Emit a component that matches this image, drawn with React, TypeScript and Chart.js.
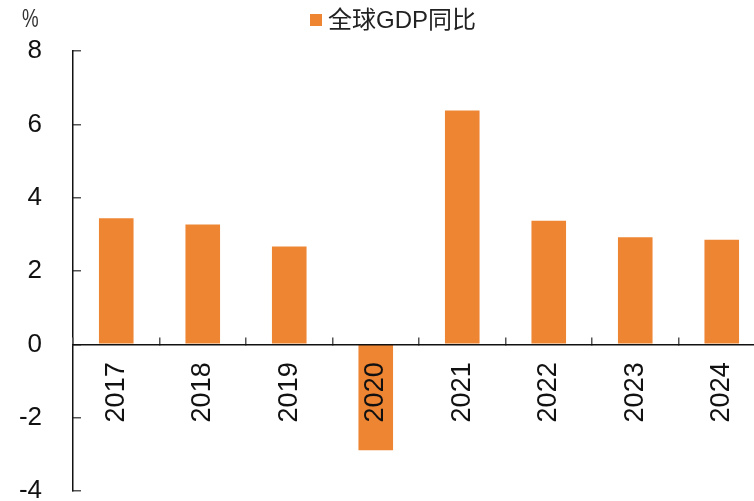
import React, { useEffect, useRef } from "react";
import { Chart, registerables } from "chart.js";

Chart.register(...registerables);

const categories = ["2017", "2018", "2019", "2020", "2021", "2022", "2023", "2024"];
const gdpYoY = [3.44, 3.27, 2.67, -2.89, 6.38, 3.37, 2.92, 2.85];
const seriesName = "全球GDP同比";
const unitLabel = "%";
const yMin = -4;
const yMax = 8;
const yStep = 2;

const BAR_COLOR = "#EE8533";
const FONT = "'Liberation Sans', Arial, 'Noto Sans CJK SC', sans-serif";

const overlayPlugin = {
  id: "overlay",
  afterDraw(chart: any) {
    const ctx = chart.ctx;
    ctx.save();
    ctx.textAlign = "left";
    ctx.textBaseline = "middle";
    ctx.fillStyle = "#333";
    ctx.save();
    ctx.translate(22, 20);
    ctx.scale(0.72, 1);
    ctx.font = `26px ${FONT}`;
    ctx.fillText(unitLabel, 0, 0);
    ctx.restore();
    ctx.fillStyle = BAR_COLOR;
    ctx.fillRect(310, 14, 12, 12);
    ctx.fillStyle = "#222";
    ctx.font = `24px ${FONT}`;
    ctx.fillText(seriesName, 328, 21);
    ctx.restore();
  },
};

export default function App() {
  const ref = useRef<HTMLCanvasElement | null>(null);
  useEffect(() => {
    if (!ref.current) return;
    const chart = new Chart(ref.current, {
      type: "bar",
      data: {
        labels: categories,
        datasets: [
          {
            label: seriesName,
            data: gdpYoY,
            backgroundColor: BAR_COLOR,
            borderWidth: 0,
            categoryPercentage: 1,
            barPercentage: 0.4,
          },
        ],
      },
      options: {
        animation: false,
        responsive: false,
        devicePixelRatio: 1,
        layout: { padding: { top: 51, bottom: 10, left: 0, right: 1 } },
        plugins: { legend: { display: false }, tooltip: { enabled: false } },
        scales: {
          x: {
            position: { y: 0 } as any,
            offset: true,
            afterFit: (s: any) => {
              s.paddingLeft = 0;
              s.paddingRight = 0;
            },
            grid: {
              offset: true,
              drawOnChartArea: false,
              tickLength: -8,
              color: "#555",
              lineWidth: 1.5,
              z: 1,
            },
            border: { color: "#111", width: 1.5, z: 1 },
            ticks: {
              maxRotation: 90,
              minRotation: 90,
              padding: 26,
              color: "#111",
              z: 1,
              font: { size: 27, family: FONT },
            },
          },
          y: {
            min: yMin,
            max: yMax,
            afterFit: (s: any) => {
              s.width = 73;
              s.paddingTop = 0;
              s.paddingBottom = 0;
            },
            grid: {
              drawOnChartArea: false,
              tickLength: -8,
              color: "#555",
              lineWidth: 1.5,
            },
            border: { color: "#111", width: 1.5 },
            ticks: {
              stepSize: yStep,
              padding: 39,
              color: "#111",
              font: { size: 26, family: FONT },
            },
          },
        },
      },
      plugins: [overlayPlugin],
    });
    return () => chart.destroy();
  }, []);
  return (
    <div style={{ position: "fixed", left: 0, top: 0, width: 754, height: 501, background: "#fff", overflow: "hidden" }}>
      <canvas ref={ref} width={766} height={501} style={{ display: "block" }} />
    </div>
  );
}
